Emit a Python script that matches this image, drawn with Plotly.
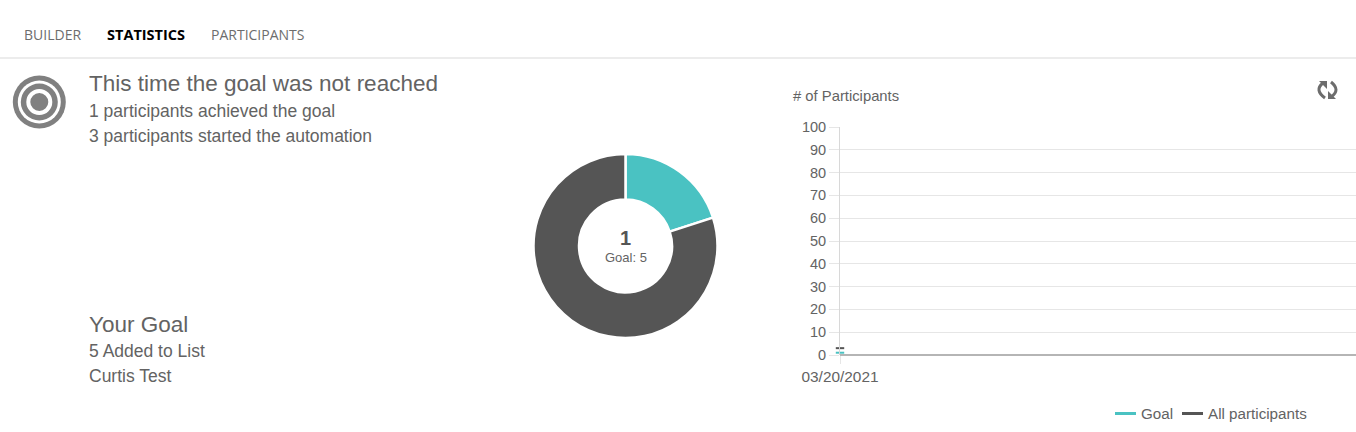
#!/usr/bin/env python3
"""
Automation statistics panel: goal donut and participants line chart
"""

import plotly.graph_objects as go

W, H = 1356, 432

# Donut
donut_labels = ['Goal', 'Remaining']
donut_values = [1, 4]
donut_colors = ['#4AC2C2', '#555555']

# Line chart
dates = ['03/20/2021']
goal_values = [1]
all_values = [3]
y_ticks = [0, 10, 20, 30, 40, 50, 60, 70, 80, 90, 100]

TEXT = '#636363'
SANS = 'Liberation Sans, Arial, sans-serif'
TAB_FONT = 'Open Sans, sans-serif'


# Pixels of the page -> paper coordinates
def px(x):
    return x / W


def py(y):
    return 1 - y / H


fig = go.Figure()

fig.add_trace(go.Pie(
    labels=donut_labels,
    values=donut_values,
    hole=0.505,
    sort=False,
    direction='clockwise',
    rotation=0,
    textinfo='none',
    marker=dict(colors=donut_colors, line=dict(color='white', width=2.5)),
    domain=dict(x=[px(533.5), px(717.5)], y=[py(338), py(154)]),
    showlegend=False
))

# Series, with a marker only as there is a single date
fig.add_trace(go.Scatter(
    x=dates, y=goal_values, name='Goal', mode='markers', cliponaxis=False,
    marker=dict(symbol='line-ew', size=6, line=dict(color='#4AC2C2', width=2)),
    showlegend=False
))
fig.add_trace(go.Scatter(
    x=dates, y=all_values, name='All participants', mode='markers', cliponaxis=False,
    marker=dict(symbol='line-ew', size=6, line=dict(color='#555555', width=2)),
    showlegend=False
))


def label(x, y, text, size, color=TEXT, family=SANS, anchor='left'):
    fig.add_annotation(
        xref='paper', yref='paper', x=px(x), y=py(y),
        text=text, showarrow=False, xanchor=anchor, yanchor='middle',
        font=dict(family=family, size=size, color=color),
        borderpad=0, borderwidth=0
    )


# Tabs
label(24, 34, 'BUILDER', 14, '#6d6d6d', TAB_FONT)
label(107, 34, '<b>STATISTICS</b>', 14.5, '#000000', TAB_FONT)
label(211, 34, 'PARTICIPANTS', 14, '#6d6d6d', TAB_FONT)

# Left text
label(89, 84, 'This time the goal was not reached', 22.5)
label(89, 111, '1 participants achieved the goal', 17.5)
label(89, 136, '3 participants started the automation', 17.5)
label(89, 324, 'Your Goal', 22.5)
label(89, 351, '5 Added to List', 17.5)
label(89, 376, 'Curtis Test', 17.5)

# Donut centre
label(625.5, 238, '<b>1</b>', 20, '#555555', anchor='center')
label(625.5, 257, 'Goal: 5', 13, TEXT, anchor='center')

# Chart title and legend
label(793, 96, '# of Participants', 14.8)
label(1141, 413, 'Goal', 15.2)
label(1208, 413, 'All participants', 15.2)

shapes = [
    # Tab separator
    dict(type='line', xref='paper', yref='paper', x0=0, x1=1,
         y0=py(58), y1=py(58), line=dict(color='#d9d9d9', width=1)),
    # Legend keys
    dict(type='line', xref='paper', yref='paper', x0=px(1115), x1=px(1136),
         y0=py(413.5), y1=py(413.5), line=dict(color='#4AC2C2', width=3)),
    dict(type='line', xref='paper', yref='paper', x0=px(1182), x1=px(1203),
         y0=py(413.5), y1=py(413.5), line=dict(color='#555555', width=3)),
]

# Target icon
for r, color in [(26.5, '#808080'), (21.5, 'white'), (18.5, '#808080'), (13, 'white'), (9, '#808080')]:
    shapes.append(dict(
        type='circle', xref='paper', yref='paper',
        x0=px(39.3 - r), x1=px(39.3 + r), y0=py(102 + r), y1=py(102 - r),
        fillcolor=color, line=dict(width=0)
    ))


# Refresh icon
def pth(points):
    return ' '.join(f'{c}{px(x):.5f},{py(y):.5f}' for c, x, y in points)


def curve(p0, ctrl, p1):
    return (f'M{px(p0[0]):.5f},{py(p0[1]):.5f} '
            f'Q{px(ctrl[0]):.5f},{py(ctrl[1]):.5f} {px(p1[0]):.5f},{py(p1[1]):.5f}')


icon = '#6d6d6d'
for path in [curve((1323, 83), (1314, 90), (1325, 98)), curve((1331, 82), (1341, 90), (1331, 97))]:
    shapes.append(dict(type='path', xref='paper', yref='paper', path=path,
                       line=dict(color=icon, width=3)))
for tri in [[('M', 1319, 81), ('L', 1327, 81), ('L', 1327, 89)],
            [('M', 1328, 91), ('L', 1336, 99), ('L', 1328, 99)]]:
    shapes.append(dict(type='path', xref='paper', yref='paper',
                       path=pth(tri) + ' Z', fillcolor=icon, line=dict(width=0)))

fig.update_layout(
    width=W,
    height=H,
    margin=dict(l=0, r=0, t=0, b=0, autoexpand=False),
    autosize=False,
    paper_bgcolor='white',
    plot_bgcolor='white',
    font=dict(family=SANS, color=TEXT),
    showlegend=False,
    shapes=shapes,
    xaxis=dict(
        domain=[px(840), 1],
        type='category',
        range=[0, 20],
        ticks='outside',
        ticklen=8,
        tickcolor='#e6e6e6',
        tickfont=dict(size=15.4, color=TEXT),
        showgrid=False,
        zeroline=False,
        showline=False
    ),
    yaxis=dict(
        domain=[py(355), py(127)],
        range=[0, 100],
        tickvals=y_ticks,
        ticks='outside',
        ticklen=10,
        tickcolor='#e6e6e6',
        tickfont=dict(size=14.5, color=TEXT),
        gridcolor='#e6e6e6',
        showline=True,
        linecolor='#d8d8d8',
        zeroline=True,
        zerolinecolor='#b5b5b5',
        zerolinewidth=2
    )
)

fig.write_html('out.html', config=dict(displayModeBar=False),
               post_script="document.body.style.margin='0';")
